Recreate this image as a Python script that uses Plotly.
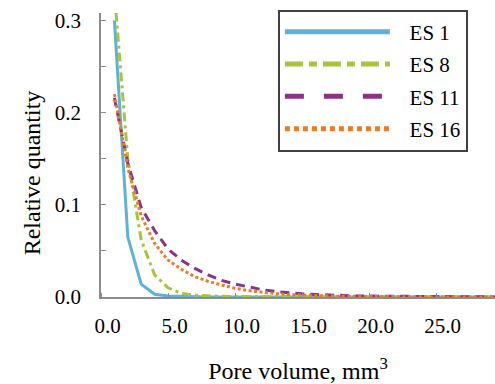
import plotly.graph_objects as go

# ---- data ----
pore_volume = [0.5, 1.5, 2.5, 3.5, 4.5, 5.5, 6.5, 7.5, 8.5, 9.5,
               10.5, 11.5, 12.5, 13.5, 14.5, 15.5, 16.5, 17.5, 18.5, 19.5,
               20.5, 21.5, 22.5, 23.5, 24.5, 25.5, 26.5, 27.5, 28.5, 29.5]

es1 = [0.300, 0.065, 0.014, 0.003, 0.001, 0.0005, 0.0002, 0.0001, 0.0, 0.0,
       0.0, 0.0, 0.0, 0.0, 0.0, 0.0, 0.0, 0.0, 0.0, 0.0,
       0.0, 0.0, 0.0, 0.0, 0.0, 0.0, 0.0, 0.0, 0.0, 0.0]
es8 = [0.330, 0.150, 0.062, 0.024, 0.010, 0.004, 0.002, 0.001, 0.0007, 0.0005,
       0.0003, 0.0002, 0.0001, 0.0001, 0.0, 0.0, 0.0, 0.0, 0.0, 0.0,
       0.0, 0.0, 0.0, 0.0, 0.0, 0.0, 0.0, 0.0, 0.0, 0.0]
es11 = [0.216, 0.145, 0.097, 0.072, 0.052, 0.040, 0.031, 0.024, 0.018, 0.014,
        0.011, 0.008, 0.006, 0.0045, 0.0035, 0.0027, 0.002, 0.0015, 0.0012, 0.001,
        0.0008, 0.0006, 0.0005, 0.0004, 0.0003, 0.0003, 0.0002, 0.0002, 0.0001, 0.0001]
es16 = [0.220, 0.140, 0.088, 0.058, 0.040, 0.030, 0.022, 0.017, 0.013, 0.0095,
        0.007, 0.005, 0.0037, 0.0027, 0.002, 0.0015, 0.0011, 0.0008, 0.0006, 0.0005,
        0.0004, 0.0003, 0.0002, 0.0002, 0.0001, 0.0001, 0.0001, 0.0, 0.0, 0.0]

series_names = ["ES 1", "ES 8", "ES 11", "ES 16"]
series_values = [es1, es8, es11, es16]

x_tick_vals = [0, 5, 10, 15, 20, 25]
x_tick_text = ["0.0", "5.0", "10.0", "15.0", "20.0", "25.0"]
x_mark_vals = [-0.5, 4.5, 9.5, 14.5, 19.5, 24.5]
y_tick_vals = [0.0, 0.1, 0.2, 0.3]
y_tick_text = ["0.0", "0.1", "0.2", "0.3"]
y_minor_vals = [0.05, 0.15, 0.25]

# ---- styles ----
colors = ["#5DB3D6", "#A6C43C", "#8C3288", "#EE7B22"]
plot_dash = ["solid", "9px,4px,3px,4px", "9px,6px", "3px,2.5px"]
legend_dash = ["solid", "18px,6px,8px,6px", "19px,20px", "5px,4px"]

FONT = "'Liberation Serif', 'Times New Roman', Times, serif"
AXIS_GRAY = "#8C8C8C"
NB = "\u00a0"

fig = go.Figure()
for name, vals, col, dsh in zip(series_names, series_values, colors, plot_dash):
    fig.add_trace(go.Scatter(
        x=pore_volume, y=vals, mode="lines", name=name,
        legendgroup=name, showlegend=False,
        line=dict(color=col, width=3, dash=dsh),
    ))
# legend entries (thicker samples, as in the reference)
for name, col, dsh in zip(series_names, colors, legend_dash):
    fig.add_trace(go.Scatter(
        x=[None], y=[None], mode="lines", name=NB * 2 + "\u2009" + name,
        legendgroup=name,
        line=dict(color=col, width=5, dash=dsh),
    ))

fig.update_layout(
    width=495, height=384,
    margin=dict(l=101, r=0, t=13, b=87),
    paper_bgcolor="white", plot_bgcolor="white",
    font=dict(family=FONT, size=21, color="black"),
    showlegend=True,
    legend=dict(
        x=0.449, y=1.012, xanchor="left", yanchor="top",
        bordercolor="#404040", borderwidth=2, bgcolor="white",
        font=dict(family=FONT, size=21, color="black"),
        itemwidth=105, traceorder="grouped", tracegroupgap=2,
    ),
    xaxis=dict(
        range=[-0.5, 28.9], showgrid=False, zeroline=False,
        showline=True, linecolor=AXIS_GRAY, linewidth=1.5,
        tickmode="array", tickvals=x_tick_vals, ticktext=x_tick_text,
        ticks="", ticklabelstandoff=9,
        minor=dict(tickmode="array", tickvals=x_mark_vals, ticks="inside",
                   ticklen=4, tickwidth=1, tickcolor=AXIS_GRAY, showgrid=False),
        title=dict(text="Pore volume, mm<sup>3</sup>", font=dict(size=24), standoff=28),
    ),
    yaxis=dict(
        range=[0, 0.308], showgrid=False, zeroline=False,
        showline=True, linecolor=AXIS_GRAY, linewidth=1.5,
        tickmode="array", tickvals=y_tick_vals, ticktext=y_tick_text,
        ticks="inside", ticklen=5, tickwidth=1, tickcolor=AXIS_GRAY,
        ticklabelstandoff=14,
        minor=dict(tickmode="array", tickvals=y_minor_vals, ticks="inside",
                   ticklen=5, tickwidth=1, tickcolor=AXIS_GRAY, showgrid=False),
        title=dict(text="Relative quantity" + NB * 6 + "\u200b",
                   font=dict(size=24), standoff=7),
    ),
)

fig.write_html("out.html")
